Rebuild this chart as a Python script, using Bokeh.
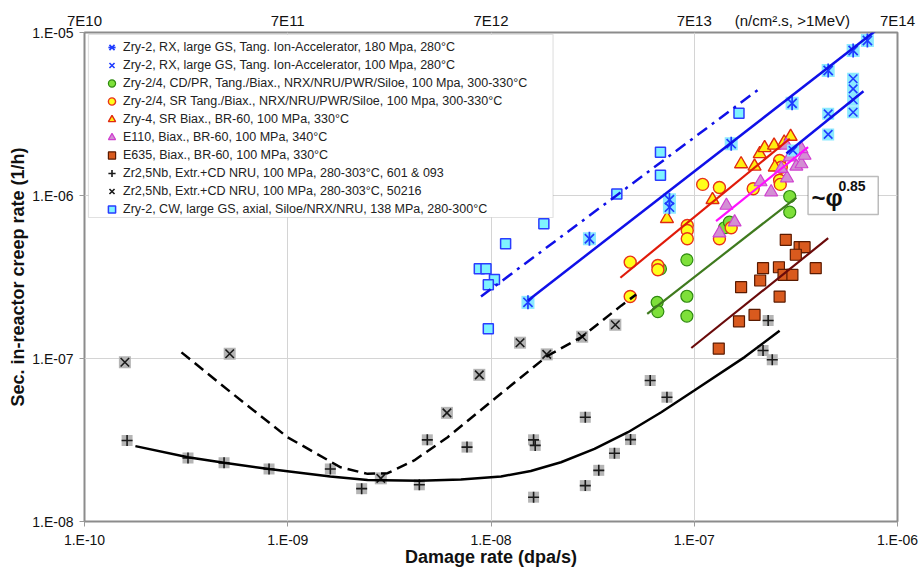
import numpy as np
from bokeh.plotting import figure
from bokeh.models import (Range1d, FixedTicker, CustomJSTickFormatter, LogAxis, Legend,
                          LegendItem, BoxAnnotation, Label)
from bokeh.embed import file_html
from bokeh.resources import INLINE

# ---------------- data (damage rate dpa/s, creep rate 1/h) ----------------
x_ticks = [1e-10, 1e-9, 1e-8, 1e-7, 1e-6]
x_tick_labels = ["1.E-10", "1.E-09", "1.E-08", "1.E-07", "1.E-06"]
# top axis: fast neutron flux equivalents, plus the unit text placed between 7E13 and 7E14
top_ticks = [1e-10, 1e-9, 1e-8, 1e-7, 3.04e-7, 1e-6]
top_tick_labels = ["7E10", "7E11", "7E12", "7E13", "(n/cm².s, >1MeV)", "7E14"]
y_ticks = [1e-8, 1e-7, 1e-6, 1e-5]
y_tick_labels = ["1.E-08", "1.E-07", "1.E-06", "1.E-05"]

zr2_180_x = [1.52e-8, 3.05e-8, 7.55e-8, 7.55e-8, 1.52e-7, 3.03e-7, 4.56e-7, 6.05e-7, 7.11e-7]
zr2_180_y = [2.21e-7, 5.43e-7, 9.41e-7, 8.48e-7, 2.08e-6, 3.68e-6, 5.85e-6, 7.75e-6, 8.93e-6]
zr2_100_x = [3.06e-7, 4.56e-7, 4.56e-7, 6.05e-7, 6.05e-7, 6.05e-7, 6.05e-7]
zr2_100_y = [1.89e-6, 3.17e-6, 2.37e-6, 5.20e-6, 4.51e-6, 3.87e-6, 3.24e-6]
cdpr_x = [6.57e-8, 6.62e-8, 6.82e-8, 9.20e-8, 9.20e-8, 9.20e-8, 1.41e-7, 1.49e-7, 2.95e-7, 2.95e-7]
cdpr_y = [2.21e-7, 1.94e-7, 3.55e-7, 4.03e-7, 2.41e-7, 1.82e-7, 6.34e-7, 6.86e-7, 9.86e-7, 7.90e-7]
sr_x = [4.84e-8, 4.84e-8, 6.62e-8, 6.62e-8, 9.24e-8, 9.24e-8, 9.24e-8, 1.10e-7, 1.33e-7, 1.95e-7,
        1.33e-7, 1.52e-7, 2.63e-7, 2.68e-7, 2.63e-7, 2.65e-7]
sr_y = [3.90e-7, 2.40e-7, 3.72e-7, 3.50e-7, 6.55e-7, 6.10e-7, 5.43e-7, 1.17e-6, 1.12e-6, 1.10e-6,
        5.43e-7, 6.34e-7, 1.64e-6, 1.49e-6, 1.24e-6, 1.17e-6]
zry4_x = [7.34e-8, 1.23e-7, 1.70e-7, 1.98e-7, 2.10e-7, 2.22e-7, 2.47e-7, 2.77e-7, 2.98e-7, 2.49e-7]
zry4_y = [7.20e-7, 9.41e-7, 1.56e-6, 1.51e-6, 1.80e-6, 1.96e-6, 2.03e-6, 2.12e-6, 2.30e-6, 1.49e-6]
e110_x = [1.33e-7, 1.44e-7, 1.58e-7, 2.12e-7, 2.39e-7, 2.86e-7, 2.68e-7, 3.18e-7, 3.37e-7, 3.49e-7,
          3.37e-7, 2.95e-7, 2.84e-7]
e110_y = [5.87e-7, 8.68e-7, 6.86e-7, 1.21e-6, 1.05e-6, 1.28e-6, 1.46e-6, 1.51e-6, 1.56e-6, 1.76e-6,
          1.93e-6, 1.72e-6, 2.03e-6]
e635_x = [2.82e-7, 3.30e-7, 3.49e-7, 3.16e-7, 2.18e-7, 2.61e-7, 2.75e-7, 3.04e-7, 3.96e-7, 2.11e-7,
          1.70e-7, 2.63e-7, 1.98e-7, 1.66e-7, 1.32e-7]
e635_y = [5.35e-7, 4.82e-7, 4.82e-7, 4.33e-7, 3.58e-7, 3.63e-7, 3.26e-7, 3.26e-7, 3.58e-7, 3.01e-7,
          2.74e-7, 2.40e-7, 1.85e-7, 1.69e-7, 1.15e-7]
nb601_x = [1.62e-10, 3.23e-10, 4.86e-10, 8.09e-10, 1.62e-9, 2.31e-9, 4.44e-9, 4.86e-9, 7.62e-9,
           1.62e-8, 1.65e-8, 1.62e-8, 2.91e-8, 3.39e-8, 4.05e-8, 2.91e-8, 4.86e-8, 6.07e-8, 7.34e-8,
           2.31e-7, 2.18e-7, 2.42e-7]
nb601_y = [3.14e-8, 2.45e-8, 2.29e-8, 2.10e-8, 2.10e-8, 1.59e-8, 1.68e-8, 3.17e-8, 2.86e-8,
           3.17e-8, 2.93e-8, 1.41e-8, 1.66e-8, 2.06e-8, 2.62e-8, 4.36e-8, 3.18e-8, 7.33e-8, 5.79e-8,
           1.71e-7, 1.12e-7, 9.82e-8]
nb50216_x = [1.58e-10, 5.18e-10, 2.87e-9, 6.07e-9, 8.76e-9, 1.39e-8, 1.88e-8, 2.81e-8, 4.09e-8]
nb50216_y = [9.49e-8, 1.07e-7, 1.84e-8, 4.64e-8, 7.94e-8, 1.25e-7, 1.06e-7, 1.36e-7, 1.61e-7]
cw_x = [8.76e-9, 9.45e-9, 1.04e-8, 9.70e-9, 9.70e-9, 1.18e-8, 1.82e-8, 4.16e-8, 6.82e-8, 6.82e-8, 1.66e-7]
cw_y = [3.55e-7, 3.55e-7, 3.05e-7, 2.83e-7, 1.52e-7, 5.06e-7, 6.71e-7, 1.02e-6, 1.33e-6, 1.84e-6, 3.20e-6]

# fitted trend lines
cw_fit_x, cw_fit_y = [8.93e-9, 2.06e-7], [2.40e-7, 4.45e-6]
fit180_x, fit180_y = [1.52e-8, 8.15e-7], [2.27e-7, 1.07e-5]
fit100_x, fit100_y = [2.84e-7, 6.80e-7], [1.81e-6, 4.36e-6]
sr_fit_x, sr_fit_y = [4.33e-8, 2.95e-7], [3.13e-7, 2.23e-6]
e110_fit_x, e110_fit_y = [1.28e-7, 3.63e-7], [6.96e-7, 1.98e-6]
cdpr_fit_x, cdpr_fit_y = [5.87e-8, 3.18e-7], [1.88e-7, 9.72e-7]
e635_fit_x, e635_fit_y = [9.67e-8, 4.56e-7], [1.16e-7, 5.47e-7]
nb601_curve_x = [1.78e-10, 3.23e-10, 4.86e-10, 8.09e-10, 1.62e-9, 2.47e-9, 4.44e-9, 7.11e-9, 1.12e-8,
                 1.57e-8, 2.21e-8, 3.23e-8, 4.72e-8, 6.88e-8, 1.00e-7, 1.77e-7, 2.63e-7]
nb601_curve_y = [2.90e-8, 2.48e-8, 2.29e-8, 2.10e-8, 1.89e-8, 1.80e-8, 1.78e-8, 1.81e-8, 1.89e-8,
                 2.04e-8, 2.31e-8, 2.79e-8, 3.53e-8, 4.68e-8, 6.36e-8, 1.02e-7, 1.48e-7]
nb50216_curve_x = [3.00e-10, 5.24e-10, 9.97e-10, 1.82e-9, 2.47e-9, 3.10e-9, 4.19e-9, 6.12e-9, 1.06e-8,
                   1.90e-8, 2.78e-8, 4.37e-8, 5.18e-8]
nb50216_curve_y = [1.09e-7, 6.21e-8, 3.29e-8, 2.15e-8, 1.96e-8, 1.98e-8, 2.37e-8, 3.29e-8, 5.76e-8,
                   1.04e-7, 1.35e-7, 2.11e-7, 2.47e-7]

labels = [
    "Zry-2, RX, large GS, Tang. Ion-Accelerator, 180 Mpa, 280°C",
    "Zry-2, RX, large GS, Tang. Ion-Accelerator, 100 Mpa, 280°C",
    "Zry-2/4, CD/PR, Tang./Biax., NRX/NRU/PWR/Siloe, 100 Mpa, 300-330°C",
    "Zry-2/4, SR Tang./Biax., NRX/NRU/PWR/Siloe, 100 Mpa, 300-330°C",
    "Zry-4, SR Biax., BR-60, 100 MPa, 330°C",
    "E110, Biax., BR-60, 100 MPa, 340°C",
    "E635, Biax., BR-60, 100 MPa, 330°C",
    "Zr2,5Nb, Extr.+CD NRU, 100 MPa, 280-303°C, 601 & 093",
    "Zr2,5Nb, Extr.+CD NRU, 100 MPa, 280-303°C, 50216",
    "Zry-2, CW, large GS, axial, Siloe/NRX/NRU, 138 MPa, 280-300°C",
]

FONT = "Liberation Sans"

p = figure(x_axis_type="log", y_axis_type="log",
           x_range=Range1d(1e-10, 1e-6), y_range=Range1d(1e-8, 1e-5),
           frame_width=813, frame_height=489,
           min_border_left=84, min_border_right=25, min_border_top=32, min_border_bottom=47,
           output_backend="svg", toolbar_location=None, background_fill_color="white")
p.outline_line_color = "#8c8c8c"
p.outline_line_width = 2

fmt_code = """
for (let i = 0; i < tv.length; i++) {
  if (Math.abs(Math.log10(tv[i]) - Math.log10(tick)) < 1e-6) return tl[i];
}
return '';
"""

p.xaxis.ticker = FixedTicker(ticks=x_ticks)
p.xaxis.formatter = CustomJSTickFormatter(args=dict(tv=x_ticks, tl=x_tick_labels), code=fmt_code)
p.yaxis.ticker = FixedTicker(ticks=y_ticks)
p.yaxis.formatter = CustomJSTickFormatter(args=dict(tv=y_ticks, tl=y_tick_labels), code=fmt_code)
for ax in (p.xaxis, p.yaxis):
    ax.axis_line_color = None
    ax.major_tick_line_color = "#9a9a9a"
    ax.major_tick_out = 5
    ax.major_tick_in = 0
    ax.minor_tick_line_color = None
    ax.major_label_text_font = FONT
    ax.major_label_text_font_size = "14px"
    ax.major_label_text_color = "#111111"
    ax.axis_label_text_font = FONT
    ax.axis_label_text_font_style = "bold"
    ax.axis_label_text_color = "#111111"
p.xaxis.axis_label = "Damage rate (dpa/s)"
p.xaxis.axis_label_text_font_size = "18px"
p.xaxis.major_label_standoff = 5
p.xaxis.axis_label_standoff = -4
p.yaxis.axis_label = "Sec. in-reactor creep rate (1/h)"
p.yaxis.axis_label_text_font_size = "18px"
p.yaxis.major_label_standoff = 6
p.yaxis.axis_label_standoff = 1

top = LogAxis(ticker=FixedTicker(ticks=top_ticks),
              formatter=CustomJSTickFormatter(args=dict(tv=top_ticks, tl=top_tick_labels), code=fmt_code))
top.axis_line_color = None
top.major_tick_line_color = None
top.major_tick_out = 1
top.major_tick_in = 0
top.minor_tick_line_color = None
top.major_label_text_font = FONT
top.major_label_text_font_size = "15px"
top.major_label_text_color = "#111111"
top.major_label_standoff = 3
p.add_layout(top, "above")

p.xgrid.ticker = FixedTicker(ticks=x_ticks)
p.ygrid.ticker = FixedTicker(ticks=y_ticks)
for g in (p.xgrid, p.ygrid):
    g.grid_line_color = "#d4d4d4"
    g.grid_line_width = 1

# legend box
p.add_layout(BoxAnnotation(left=1.046e-10, right=2.02e-8, top=9.72e-6, bottom=7.33e-7,
                           fill_color="white", fill_alpha=1.0, line_color="#9a9a9a", line_width=1.2))

# ---------------- markers ----------------
BLUE = "#1f3cff"
r_cw = p.scatter(cw_x, cw_y, marker="square", size=10, fill_color="#7ff3ff", line_color="#2a3cff", line_width=1.5)
p.scatter(nb601_x, nb601_y, marker="square", size=11, fill_color="#b5b5b5", line_color=None)
r_nb601 = p.scatter(nb601_x, nb601_y, marker="cross", size=11, line_color="#1a1a1a", line_width=1.6)
p.scatter(nb50216_x, nb50216_y, marker="square", size=12, fill_color="#b5b5b5", line_color=None)
r_nb502 = p.scatter(nb50216_x, nb50216_y, marker="x", size=12, line_color="#1a1a1a", line_width=1.6)
r_e635 = p.scatter(e635_x, e635_y, marker="square", size=11, fill_color="#d95a1e", line_color="#5a1a00", line_width=1.2)
r_cdpr = p.scatter(cdpr_x, cdpr_y, marker="circle", size=12, fill_color="#7ee03a", line_color="#2f8a10", line_width=1.2)
r_sr = p.scatter(sr_x, sr_y, marker="circle", size=12, fill_color="#ffff1a", line_color="#e8321a", line_width=1.4)
r_zry4 = p.scatter(zry4_x, zry4_y, marker="triangle", size=13, fill_color="#ffee10", line_color="#e02a10", line_width=1.4)
r_e110 = p.scatter(e110_x, e110_y, marker="triangle", size=13, fill_color="#d38fd3", line_color="#d040d0", line_width=1.2)
p.scatter(zr2_100_x, zr2_100_y, marker="square", size=12, fill_color="#8be9ff", line_color=None)
r_100 = p.scatter(zr2_100_x, zr2_100_y, marker="x", size=12, line_color=BLUE, line_width=1.6)
p.scatter(zr2_180_x, zr2_180_y, marker="square", size=13, fill_color="#8be9ff", line_color=None)
r_180a = p.scatter(zr2_180_x, zr2_180_y, marker="x", size=13, line_color=BLUE, line_width=1.7)
r_180b = p.scatter(zr2_180_x, zr2_180_y, marker="dash", angle=np.pi / 2, size=14, line_color=BLUE, line_width=1.7)

# ---------------- trend lines ----------------
p.line(cw_fit_x, cw_fit_y, line_color="#1010e8", line_width=2.5, line_dash="12 6 3 6")
p.line(fit180_x, fit180_y, line_color="#1010e8", line_width=2.5)
p.line(fit100_x, fit100_y, line_color="#1010e8", line_width=2.5)
p.line(sr_fit_x, sr_fit_y, line_color="#e01a0a", line_width=2.2)
p.line(e110_fit_x, e110_fit_y, line_color="#ff10ff", line_width=2.2)
p.line(cdpr_fit_x, cdpr_fit_y, line_color="#3f7a1e", line_width=2.2)
p.line(e635_fit_x, e635_fit_y, line_color="#6a0a0a", line_width=2.2)
p.line(nb601_curve_x, nb601_curve_y, line_color="black", line_width=2.5)
p.line(nb50216_curve_x, nb50216_curve_y, line_color="black", line_width=2.5, line_dash="11 6")

# ---------------- legend ----------------
items = [
    LegendItem(label=labels[0], renderers=[r_180a, r_180b]),
    LegendItem(label=labels[1], renderers=[r_100]),
    LegendItem(label=labels[2], renderers=[r_cdpr]),
    LegendItem(label=labels[3], renderers=[r_sr]),
    LegendItem(label=labels[4], renderers=[r_zry4]),
    LegendItem(label=labels[5], renderers=[r_e110]),
    LegendItem(label=labels[6], renderers=[r_e635]),
    LegendItem(label=labels[7], renderers=[r_nb601]),
    LegendItem(label=labels[8], renderers=[r_nb502]),
    LegendItem(label=labels[9], renderers=[r_cw]),
]
legend = Legend(items=items, location=(18, 303), padding=0, margin=0, spacing=0,
                glyph_width=19, glyph_height=18, label_height=18, label_standoff=2,
                label_text_font=FONT, label_text_font_size="12.5px", label_text_color="#222222",
                border_line_alpha=0, background_fill_alpha=0)
p.add_layout(legend)

# ---------------- annotations ----------------
p.add_layout(BoxAnnotation(left=3.63e-7, right=8.04e-7, top=1.31e-6, bottom=7.64e-7,
                           fill_color="white", fill_alpha=1.0, line_color="#222222", line_width=1.5))
p.add_layout(Label(x=3.77e-7, y=9.72e-7, text="~φ", text_font=FONT, text_font_style="bold",
                   text_font_size="24px", text_baseline="middle", text_color="#111111"))
p.add_layout(Label(x=5.12e-7, y=1.15e-6, text="0.85", text_font=FONT, text_font_style="bold",
                   text_font_size="14px", text_baseline="middle", text_color="#111111"))

open("out.html", "w").write(file_html(p, INLINE))
